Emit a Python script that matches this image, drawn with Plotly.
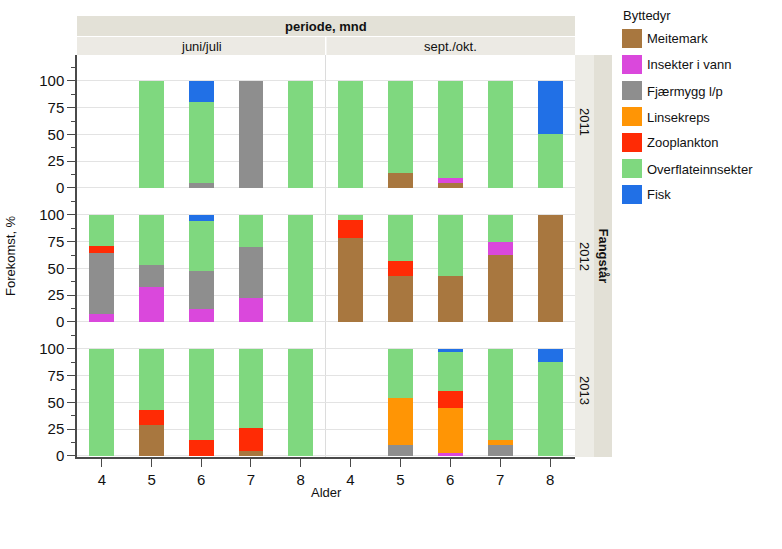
import plotly.graph_objects as go

W, H = 782, 549

ages = [4, 5, 6, 7, 8]
years = ["2011", "2012", "2013"]
perioder = ["juni/juli", "sept./okt."]
series_names = ["Meitemark", "Insekter i vann", "Fjærmygg l/p", "Linsekreps",
                "Zooplankton", "Overflateinnsekter", "Fisk"]
series_colors = ["#A8773F", "#DA48DC", "#8E8E8E", "#FF9505", "#FF2B05", "#7FD87F", "#2170E6"]

# panel order: 2011 juni/juli, 2011 sept./okt., 2012 juni/juli, 2012 sept./okt., 2013 juni/juli, 2013 sept./okt.
meitemark = [[0, 0, 0, 0, 0], [0, 14, 5, 0, 0], [0, 0, 0, 0, 0],
             [78, 43, 43, 62.5, 100], [0, 29, 0, 5, 0], [0, 0, 0, 0, 0]]
insekter = [[0, 0, 0, 0, 0], [0, 0, 4, 0, 0], [7, 33, 12, 22, 0],
            [0, 0, 0, 12.5, 0], [0, 0, 0, 0, 0], [0, 0, 3, 0, 0]]
fjaermygg = [[0, 0, 5, 100, 0], [0, 0, 0, 0, 0], [57, 20, 36, 48, 0],
             [0, 0, 0, 0, 0], [0, 0, 0, 0, 0], [0, 10, 0, 10, 0]]
linsekreps = [[0, 0, 0, 0, 0], [0, 0, 0, 0, 0], [0, 0, 0, 0, 0],
              [0, 0, 0, 0, 0], [0, 0, 0, 0, 0], [0, 44, 42, 5, 0]]
zooplankton = [[0, 0, 0, 0, 0], [0, 0, 0, 0, 0], [7, 0, 0, 0, 0],
               [17, 14, 0, 0, 0], [0, 14, 15, 21, 0], [0, 0, 16, 0, 0]]
overflate = [[0, 100, 75, 0, 100], [100, 86, 91, 100, 50], [29, 47, 46, 30, 100],
             [5, 43, 57, 25, 0], [100, 57, 85, 74, 100], [0, 46, 36, 85, 88]]
fisk = [[0, 0, 20, 0, 0], [0, 0, 0, 0, 50], [0, 0, 6, 0, 0],
        [0, 0, 0, 0, 0], [0, 0, 0, 0, 0], [0, 0, 3, 0, 12]]

all_series = [meitemark, insekter, fjaermygg, linsekreps, zooplankton, overflate, fisk]


def X(p):
    return p / W


def Y(p):
    return 1 - p / H


col_px = [(77, 325.5), (325.5, 575)]
row_px = [(55, 189), (189, 323), (323, 457)]

FONT = "Liberation Sans, Arial, Helvetica, sans-serif"
AXIS_COL = "#4a4a4a"

fig = go.Figure()
layout = dict(width=W, height=H, autosize=False, margin=dict(l=0, r=0, t=0, b=0, pad=0),
              template="none",
              paper_bgcolor="white", plot_bgcolor="white", barmode="stack",
              showlegend=False, font=dict(family=FONT, size=13, color="#111"))

for r in range(3):
    for c in range(2):
        k = r * 2 + c
        n = k + 1
        xs = "x" if n == 1 else f"x{n}"
        ys = "y" if n == 1 else f"y{n}"
        xk = "xaxis" if n == 1 else f"xaxis{n}"
        yk = "yaxis" if n == 1 else f"yaxis{n}"
        for s, name in enumerate(series_names):
            vals = [v if v else None for v in all_series[s][k]]
            fig.add_trace(go.Bar(x=ages, y=vals, name=name, width=0.5,
                                 marker=dict(color=series_colors[s], line=dict(width=0)),
                                 xaxis=xs, yaxis=ys, showlegend=False))
        bottom = (r == 2)
        layout[xk] = dict(domain=[X(col_px[c][0]), X(col_px[c][1])], anchor=ys,
                          range=[3.5, 8.5], tickvals=ages, showgrid=False, zeroline=False,
                          automargin=False,
                          showticklabels=bottom, ticks="outside" if bottom else "",
                          ticklen=8, tickcolor=AXIS_COL, showline=bottom,
                          linecolor=AXIS_COL, linewidth=1.5,
                          tickfont=dict(size=15, color="#111"))
        left = (c == 0)
        ydict = dict(domain=[Y(row_px[r][1]), Y(row_px[r][0])], anchor=xs,
                     range=[-1, 124.2], tickvals=[0, 25, 50, 75, 100],
                     showgrid=True, gridcolor="#E3E3E3", gridwidth=1, zeroline=False,
                     automargin=False,
                     showticklabels=left, ticks="outside" if left else "",
                     ticklen=8, tickcolor=AXIS_COL, showline=left,
                     linecolor=AXIS_COL, linewidth=1.5,
                     tickfont=dict(size=15, color="#111"))
        if left:
            ydict["minor"] = dict(dtick=12.5, tick0=0, ticks="outside", ticklen=4,
                                  tickcolor=AXIS_COL, showgrid=False)
        layout[yk] = ydict

shapes = []
annotations = []

# panel separator
shapes.append(dict(type="line", xref="paper", yref="paper", x0=X(325.5), x1=X(325.5),
                   y0=Y(457), y1=Y(55), line=dict(color="#DCDCDC", width=1), layer="below"))

# top strips
shapes.append(dict(type="rect", xref="paper", yref="paper", x0=X(77), x1=X(575),
                   y0=Y(36), y1=Y(16), fillcolor="#E3E1D7", line=dict(width=0)))
annotations.append(dict(text="<b>periode, mnd</b>", xref="paper", yref="paper",
                        x=X(326), y=Y(26), showarrow=False, xanchor="center", yanchor="middle",
                        font=dict(size=13, color="#111")))
for c, lab in enumerate(perioder):
    x0, x1 = col_px[c]
    shapes.append(dict(type="rect", xref="paper", yref="paper", x0=X(x0 + (1 if c else 0)),
                       x1=X(x1 - (0 if c else 0.5)), y0=Y(55), y1=Y(37),
                       fillcolor="#ECEAE4", line=dict(width=0)))
    annotations.append(dict(text=lab, xref="paper", yref="paper", x=X((x0 + x1) / 2),
                            y=Y(46), showarrow=False, xanchor="center", yanchor="middle",
                            font=dict(size=13, color="#111")))

# right strips
shapes.append(dict(type="rect", xref="paper", yref="paper", x0=X(575), x1=X(594),
                   y0=Y(457), y1=Y(55), fillcolor="#EDECE6", line=dict(width=0)))
shapes.append(dict(type="rect", xref="paper", yref="paper", x0=X(594), x1=X(612),
                   y0=Y(457), y1=Y(55), fillcolor="#E2E0D6", line=dict(width=0)))
for r, yr in enumerate(years):
    y0, y1 = row_px[r]
    annotations.append(dict(text=yr, xref="paper", yref="paper", x=X(585), y=Y((y0 + y1) / 2),
                            showarrow=False, textangle=90, xanchor="center", yanchor="middle",
                            font=dict(size=13, color="#111")))
annotations.append(dict(text="<b>Fangstår</b>", xref="paper", yref="paper", x=X(603.5), y=Y(256),
                        showarrow=False, textangle=90, xanchor="center", yanchor="middle",
                        font=dict(size=13, color="#111")))

# axis titles
annotations.append(dict(text="Forekomst, %", xref="paper", yref="paper", x=X(10), y=Y(256),
                        showarrow=False, textangle=-90, xanchor="center", yanchor="middle",
                        font=dict(size=13, color="#111")))
annotations.append(dict(text="Alder", xref="paper", yref="paper", x=X(326), y=Y(492),
                        showarrow=False, xanchor="center", yanchor="middle",
                        font=dict(size=13, color="#111")))

# legend
annotations.append(dict(text="Byttedyr", xref="paper", yref="paper", x=X(621), y=Y(15),
                        showarrow=False, xanchor="left", yanchor="middle",
                        font=dict(size=13, color="#111")))
for i, (name, col) in enumerate(zip(series_names, series_colors)):
    top = 29 + i * 26
    shapes.append(dict(type="rect", xref="paper", yref="paper", x0=X(622), x1=X(642),
                       y0=Y(top + 19), y1=Y(top), fillcolor=col, line=dict(width=0)))
    annotations.append(dict(text=name, xref="paper", yref="paper", x=X(645), y=Y(top + 10),
                            showarrow=False, xanchor="left", yanchor="middle",
                            font=dict(size=13, color="#111")))

layout["shapes"] = shapes
layout["annotations"] = annotations
fig.update_layout(**layout)
fig.write_html("out.html")
